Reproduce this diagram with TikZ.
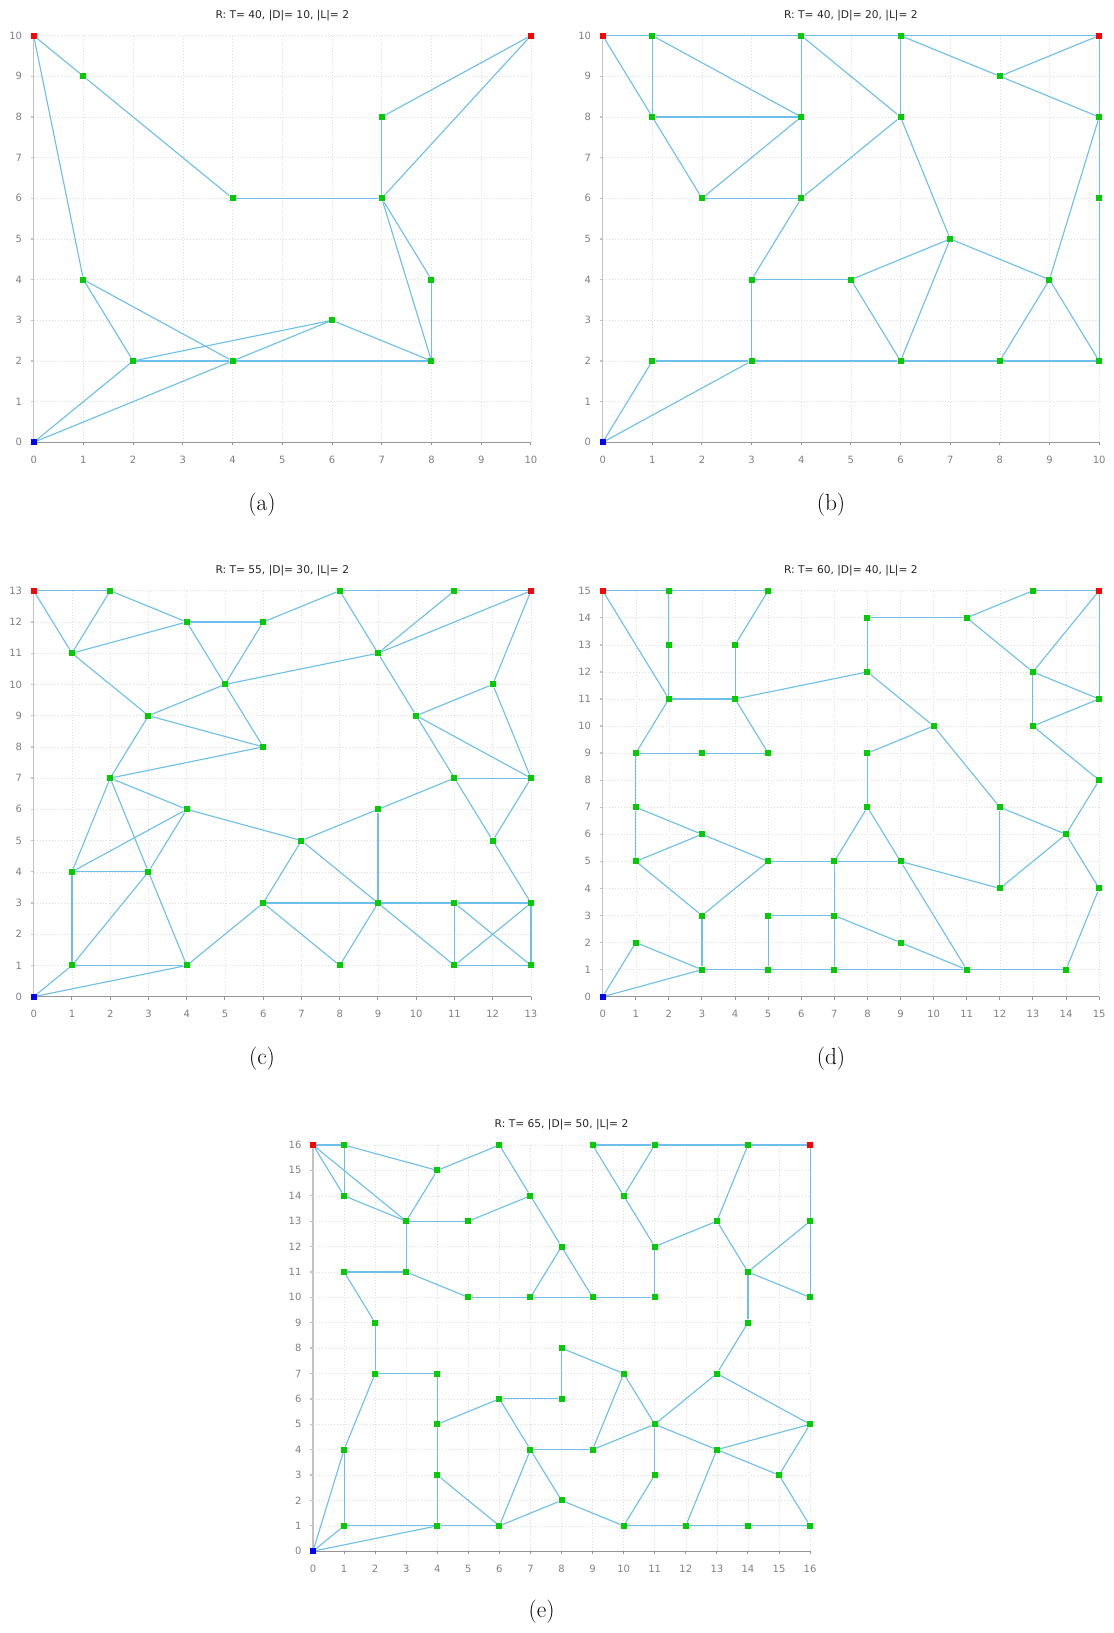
\documentclass[tikz,border=0pt]{standalone}
\usepackage{fontspec}
\newfontfamily\plotfont{DejaVu Sans}
\definecolor{linkblue}{RGB}{110,192,235}
\definecolor{vgreen}{RGB}{0,204,0}
\definecolor{gridgray}{RGB}{222,222,222}
\definecolor{axisgray}{RGB}{150,150,150}
\definecolor{laxisgray}{RGB}{195,195,195}
\definecolor{tickgray}{RGB}{128,128,128}
\tikzset{
  vtx/.style={rectangle,fill=vgreen,inner sep=0pt,minimum size=4.5pt},
  srcvtx/.style={vtx,fill=blue},
  dstvtx/.style={vtx,fill=red},
  link/.style={draw=linkblue,line width=0.85pt},
  gridline/.style={draw=gridgray,line width=0.45pt,dash pattern={on 0.75pt off 1.5pt}},
  baxis/.style={draw=axisgray,line width=0.75pt},
  laxis/.style={draw=laxisgray,line width=1pt},
  xtick/.style={anchor=north,inner xsep=0pt,inner ysep=10pt,text=tickgray,font=\plotfont\fontsize{7.5}{9}\selectfont},
  ytick/.style={anchor=east,inner xsep=8.5pt,inner ysep=0pt,text=tickgray,font=\plotfont\fontsize{7.5}{9}\selectfont},
  plottitle/.style={text=black!85,font=\plotfont\fontsize{8}{10}\selectfont},
  subcap/.style={font=\fontsize{17.5}{21}\selectfont}
}
\begin{document}
\begin{tikzpicture}[x=0.75pt,y=0.75pt,yscale=-1,xscale=1]
\path[use as bounding box] (0,0) rectangle (1113,1633);

% Panel (a)
\node[plottitle] (a-title) at (282.3,15.7) {R: T= 40, |D|= 10, |L|= 2};
\begin{scope}[shift={(33.7,442.3)},x=37.29pt,y=-30.50pt]
\foreach \i in {0,...,10} {
  \draw[gridline] (\i,0) -- (\i,10);
  \draw[gridline] (0,\i) -- (10,\i);
}
\draw[laxis] (0,0) -- (0,10);
\draw[baxis] (0,0) -- (10,0);
\foreach \i in {0,...,10} {
  \draw[baxis] (\i,0) -- ++(0pt,2.25pt);
  \draw[laxis] (0,\i) -- ++(-2.25pt,0pt);
  \node[xtick] (a-x\i) at (\i,0) {\i};
  \node[ytick] (a-y\i) at (0,\i) {\i};
}
\node[srcvtx] (a-0-0) at (0,0) {};
\node[dstvtx] (a-0-10) at (0,10) {};
\node[dstvtx] (a-10-10) at (10,10) {};
\foreach \x/\y in {1/9, 4/6, 7/6, 7/8, 8/4, 1/4, 2/2, 4/2, 6/3, 8/2}
  \node[vtx] (a-\x-\y) at (\x,\y) {};
\foreach \u/\v in {0-10/1-9, 1-9/4-6, 0-10/1-4, 4-6/7-6, 7-6/7-8, 7-8/10-10,
  7-6/10-10, 7-6/8-4, 7-6/8-2, 8-4/8-2, 1-4/2-2, 1-4/4-2, 2-2/6-3, 2-2/4-2,
  4-2/8-2, 4-2/6-3, 6-3/8-2, 0-0/2-2, 0-0/4-2}
  \draw[link] (a-\u) -- (a-\v);
\end{scope}
\node[subcap] (a-cap) at (262,505) {(a)};

% Panel (b)
\node[plottitle] (b-title) at (850.9,15.7) {R: T= 40, |D|= 20, |L|= 2};
\begin{scope}[shift={(602.7,442.3)},x=37.23pt,y=-30.50pt]
\foreach \i in {0,...,10} {
  \draw[gridline] (\i,0) -- (\i,10);
  \draw[gridline] (0,\i) -- (10,\i);
}
\draw[laxis] (0,0) -- (0,10);
\draw[baxis] (0,0) -- (10,0);
\foreach \i in {0,...,10} {
  \draw[baxis] (\i,0) -- ++(0pt,2.25pt);
  \draw[laxis] (0,\i) -- ++(-2.25pt,0pt);
  \node[xtick] (b-x\i) at (\i,0) {\i};
  \node[ytick] (b-y\i) at (0,\i) {\i};
}
\node[srcvtx] (b-0-0) at (0,0) {};
\node[dstvtx] (b-0-10) at (0,10) {};
\node[dstvtx] (b-10-10) at (10,10) {};
\foreach \x/\y in {1/10, 4/10, 6/10, 1/8, 4/8, 6/8, 8/9, 10/8, 2/6, 4/6, 10/6,
  7/5, 3/4, 5/4, 9/4, 1/2, 3/2, 6/2, 8/2, 10/2}
  \node[vtx] (b-\x-\y) at (\x,\y) {};
\foreach \u/\v in {0-10/1-10, 1-10/4-10, 4-10/6-10, 6-10/10-10, 0-10/1-8,
  1-10/1-8, 1-10/4-8, 1-8/4-8, 1-8/2-6, 2-6/4-8, 2-6/4-6, 4-10/4-8, 4-8/4-6,
  4-10/6-8, 6-10/6-8, 6-10/8-9, 8-9/10-10, 8-9/10-8, 10-10/10-8, 10-8/10-6,
  10-6/10-2, 10-8/9-4, 6-8/4-6, 6-8/7-5, 4-6/3-4, 3-4/5-4, 3-4/3-2, 5-4/7-5,
  5-4/6-2, 7-5/6-2, 7-5/9-4, 9-4/8-2, 9-4/10-2, 0-0/1-2, 0-0/3-2, 1-2/3-2,
  3-2/6-2, 6-2/8-2, 8-2/10-2}
  \draw[link] (b-\u) -- (b-\v);
\end{scope}
\node[subcap] (b-cap) at (831,505) {(b)};

% Panel (c)
\node[plottitle] (c-title) at (282.3,570.7) {R: T= 55, |D|= 30, |L|= 2};
\begin{scope}[shift={(33.7,996.7)},x=28.69pt,y=-23.42pt]
\foreach \i in {0,...,13} {
  \draw[gridline] (\i,0) -- (\i,13);
  \draw[gridline] (0,\i) -- (13,\i);
}
\draw[laxis] (0,0) -- (0,13);
\draw[baxis] (0,0) -- (13,0);
\foreach \i in {0,...,13} {
  \draw[baxis] (\i,0) -- ++(0pt,2.25pt);
  \draw[laxis] (0,\i) -- ++(-2.25pt,0pt);
  \node[xtick] (c-x\i) at (\i,0) {\i};
  \node[ytick] (c-y\i) at (0,\i) {\i};
}
\node[srcvtx] (c-0-0) at (0,0) {};
\node[dstvtx] (c-0-13) at (0,13) {};
\node[dstvtx] (c-13-13) at (13,13) {};
\foreach \x/\y in {2/13, 8/13, 11/13, 1/11, 4/12, 6/12, 9/11, 5/10, 12/10, 3/9,
  10/9, 6/8, 2/7, 11/7, 13/7, 4/6, 9/6, 7/5, 12/5, 1/4, 3/4, 6/3, 9/3, 11/3,
  13/3, 1/1, 4/1, 8/1, 11/1, 13/1}
  \node[vtx] (c-\x-\y) at (\x,\y) {};
\foreach \u/\v in {0-13/2-13, 0-13/1-11, 2-13/1-11, 2-13/4-12, 1-11/4-12,
  4-12/6-12, 4-12/5-10, 6-12/5-10, 6-12/8-13, 8-13/11-13, 11-13/13-13,
  8-13/9-11, 11-13/9-11, 13-13/9-11, 13-13/12-10, 9-11/5-10, 9-11/10-9,
  1-11/3-9, 3-9/5-10, 3-9/6-8, 5-10/6-8, 3-9/2-7, 2-7/6-8, 12-10/10-9,
  12-10/13-7, 10-9/11-7, 10-9/13-7, 11-7/13-7, 11-7/9-6, 11-7/12-5, 13-7/12-5,
  12-5/13-3, 2-7/4-6, 2-7/1-4, 2-7/3-4, 4-6/1-4, 4-6/3-4, 4-6/7-5, 9-6/7-5,
  9-6/9-3, 7-5/6-3, 7-5/9-3, 1-4/3-4, 1-4/1-1, 3-4/1-1, 3-4/4-1, 1-1/4-1,
  0-0/1-1, 0-0/4-1, 4-1/6-3, 6-3/9-3, 6-3/8-1, 9-3/8-1, 9-3/11-3, 9-3/11-1,
  11-3/13-3, 11-3/11-1, 11-3/13-1, 11-1/13-3, 11-1/13-1, 13-3/13-1}
  \draw[link] (c-\u) -- (c-\v);
\end{scope}
\node[subcap] (c-cap) at (262,1059) {(c)};

% Panel (d)
\node[plottitle] (d-title) at (850.9,570.7) {R: T= 60, |D|= 40, |L|= 2};
\begin{scope}[shift={(602.7,996.7)},x=24.82pt,y=-20.30pt]
\foreach \i in {0,...,15} {
  \draw[gridline] (\i,0) -- (\i,15);
  \draw[gridline] (0,\i) -- (15,\i);
}
\draw[laxis] (0,0) -- (0,15);
\draw[baxis] (0,0) -- (15,0);
\foreach \i in {0,...,15} {
  \draw[baxis] (\i,0) -- ++(0pt,2.25pt);
  \draw[laxis] (0,\i) -- ++(-2.25pt,0pt);
  \node[xtick] (d-x\i) at (\i,0) {\i};
  \node[ytick] (d-y\i) at (0,\i) {\i};
}
\node[srcvtx] (d-0-0) at (0,0) {};
\node[dstvtx] (d-0-15) at (0,15) {};
\node[dstvtx] (d-15-15) at (15,15) {};
\foreach \x/\y in {2/15, 5/15, 13/15, 8/14, 11/14, 2/13, 4/13, 8/12, 13/12,
  2/11, 4/11, 15/11, 10/10, 13/10, 1/9, 3/9, 5/9, 8/9, 15/8, 1/7, 8/7, 12/7,
  3/6, 14/6, 1/5, 5/5, 7/5, 9/5, 12/4, 15/4, 3/3, 5/3, 7/3, 1/2, 9/2, 3/1,
  5/1, 7/1, 11/1, 14/1}
  \node[vtx] (d-\x-\y) at (\x,\y) {};
\foreach \u/\v in {0-15/2-15, 2-15/5-15, 0-15/2-11, 2-15/2-13, 2-13/2-11,
  5-15/4-13, 4-13/4-11, 2-11/4-11, 4-11/8-12, 4-11/5-9, 2-11/1-9, 1-9/3-9,
  3-9/5-9, 1-9/1-7, 1-7/1-5, 1-7/3-6, 1-5/3-6, 3-6/5-5, 1-5/3-3, 3-3/5-5,
  5-5/7-5, 7-5/9-5, 7-5/8-7, 8-7/9-5, 8-7/8-9, 8-9/10-10, 8-12/8-14,
  8-14/11-14, 11-14/13-15, 13-15/15-15, 11-14/13-12, 13-12/15-15, 15-15/15-11,
  13-12/15-11, 13-12/13-10, 13-10/15-11, 13-10/15-8, 15-8/14-6, 8-12/10-10,
  10-10/12-7, 12-7/14-6, 12-7/12-4, 12-4/14-6, 14-6/15-4, 15-4/14-1, 9-5/12-4,
  9-5/11-1, 7-5/7-3, 7-3/7-1, 5-3/7-3, 5-3/5-1, 7-3/9-2, 9-2/11-1, 3-3/3-1,
  0-0/1-2, 1-2/3-1, 0-0/3-1, 3-1/5-1, 5-1/7-1, 7-1/11-1, 11-1/14-1}
  \draw[link] (d-\u) -- (d-\v);
\end{scope}
\node[subcap] (d-cap) at (831,1059) {(d)};

% Panel (e)
\node[plottitle] (e-title) at (561.5,1124.8) {R: T= 65, |D|= 50, |L|= 2};
\begin{scope}[shift={(313,1551.2)},x=23.30pt,y=-19.04pt]
\foreach \i in {0,...,16} {
  \draw[gridline] (\i,0) -- (\i,16);
  \draw[gridline] (0,\i) -- (16,\i);
}
\draw[laxis] (0,0) -- (0,16);
\draw[baxis] (0,0) -- (16,0);
\foreach \i in {0,...,16} {
  \draw[baxis] (\i,0) -- ++(0pt,2.25pt);
  \draw[laxis] (0,\i) -- ++(-2.25pt,0pt);
  \node[xtick] (e-x\i) at (\i,0) {\i};
  \node[ytick] (e-y\i) at (0,\i) {\i};
}
\node[srcvtx] (e-0-0) at (0,0) {};
\node[dstvtx] (e-0-16) at (0,16) {};
\node[dstvtx] (e-16-16) at (16,16) {};
\foreach \x/\y in {1/16, 6/16, 9/16, 11/16, 14/16, 4/15, 1/14, 7/14, 10/14,
  3/13, 5/13, 13/13, 16/13, 8/12, 11/12, 1/11, 3/11, 14/11, 5/10, 7/10, 9/10,
  11/10, 16/10, 2/9, 14/9, 8/8, 2/7, 4/7, 10/7, 13/7, 6/6, 8/6, 4/5, 11/5,
  16/5, 1/4, 7/4, 9/4, 13/4, 4/3, 11/3, 15/3, 8/2, 1/1, 4/1, 6/1, 10/1, 12/1,
  14/1, 16/1}
  \node[vtx] (e-\x-\y) at (\x,\y) {};
\foreach \u/\v in {0-16/1-16, 1-16/1-14, 0-16/1-14, 0-16/3-13, 1-16/4-15,
  1-14/3-13, 4-15/3-13, 4-15/6-16, 6-16/7-14, 3-13/5-13, 5-13/7-14, 7-14/8-12,
  3-13/3-11, 1-11/3-11, 3-11/5-10, 5-10/7-10, 7-10/9-10, 9-10/11-10,
  7-10/8-12, 8-12/9-10, 11-10/11-12, 11-12/10-14, 10-14/9-16, 10-14/11-16,
  9-16/11-16, 11-16/14-16, 14-16/16-16, 11-12/13-13, 13-13/14-16, 13-13/14-11,
  16-16/16-13, 16-13/14-11, 16-13/16-10, 14-11/16-10, 14-11/14-9, 14-9/13-7,
  1-11/2-9, 2-9/2-7, 2-7/4-7, 2-7/1-4, 4-7/4-5, 4-5/6-6, 6-6/8-6, 8-6/8-8,
  8-8/10-7, 10-7/9-4, 10-7/11-5, 13-7/11-5, 13-7/16-5, 6-6/7-4, 7-4/9-4,
  9-4/11-5, 11-5/13-4, 11-5/11-3, 13-4/16-5, 13-4/15-3, 16-5/15-3, 15-3/16-1,
  13-4/12-1, 4-5/4-3, 4-3/4-1, 4-3/6-1, 7-4/6-1, 7-4/8-2, 6-1/8-2, 8-2/10-1,
  10-1/11-3, 10-1/12-1, 12-1/14-1, 14-1/16-1, 1-4/1-1, 0-0/1-4, 0-0/1-1,
  0-0/4-1, 1-1/4-1, 4-1/6-1}
  \draw[link] (e-\u) -- (e-\v);
\end{scope}
\node[subcap] (e-cap) at (541.7,1612) {(e)};

\end{tikzpicture}
\end{document}
